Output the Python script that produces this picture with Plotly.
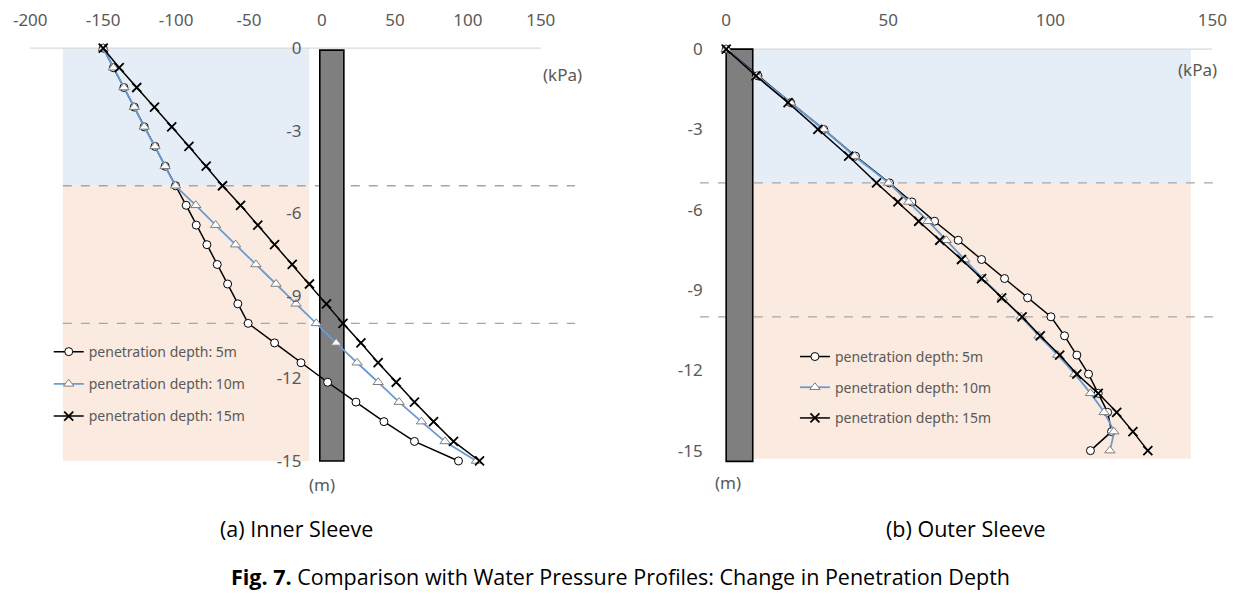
import plotly.graph_objects as go

# ---------------- data ----------------
depth_inner = [0, -0.71, -1.43, -2.14, -2.86, -3.57, -4.29, -5.0, -5.71, -6.43, -7.14,
               -7.86, -8.57, -9.29, -10.0, -10.71, -11.43, -12.14, -12.86, -13.57, -14.29, -15.0]
inner_5m = [-150, -143, -135.8, -128.7, -121.9, -114.5, -107.5, -100.4, -93.1, -86.2, -78.9,
            -71.8, -64.7, -57.7, -50.6, -32.5, -14.4, 3.9, 23.3, 42.5, 63.4, 93.6]
inner_10m = [-150, -143, -135.8, -128.7, -121.9, -114.5, -107.5, -100.4, -86.5, -72.9, -59.2,
             -45.3, -31.5, -17.8, -3.9, 9.7, 24.1, 38.5, 52.9, 68.2, 84.4, 105.9]
inner_15m = [-150, -139, -127, -114.8, -103, -91.2, -79.4, -68.2, -55.8, -44, -32.5,
             -20.4, -8.6, 3.1, 14.4, 26.7, 38.5, 50.9, 63.4, 76.5, 90.2, 108]

depth_outer = [0, -1, -2, -3, -4, -5, -5.71, -6.43, -7.14, -7.86, -8.57, -9.29, -10.0,
               -10.71, -11.43, -12.14, -12.86, -13.57, -14.29, -15.0]
outer_5m = [0, 9.8, 19.9, 30.1, 39.9, 50.4, 57.3, 64.3, 71.6, 78.8, 85.9, 93.0, 100.2,
            104.4, 108.2, 111.8, 114.8, 117.7, 118.9, 112.4]
outer_10m = [0, 9.5, 19.9, 30.1, 39.6, 50.1, 56.3, 62.3, 67.9, 73.6, 79.2, 85.2, 91.0,
             96.5, 102.3, 107.6, 112.4, 116.6, 119.6, 118.4]
outer_15m = [0, 9.2, 19.1, 28.3, 37.8, 46.4, 53.0, 59.4, 65.9, 72.6, 78.8, 85.0, 91.3,
             96.9, 102.9, 108.2, 114.8, 120.5, 125.5, 130.1]

series_names = ["penetration depth: 5m", "penetration depth: 10m", "penetration depth: 15m"]
x_ticks_inner = [-200, -150, -100, -50, 0, 50, 100, 150]
x_ticks_outer = [0, 50, 100, 150]
y_ticks = [0, -3, -6, -9, -12, -15]
unit_x = "(kPa)"
unit_y = "(m)"
caption_a = "(a) Inner Sleeve"
caption_b = "(b) Outer Sleeve"
fig_label = "Fig. 7."
fig_title = "Comparison with Water Pressure Profiles: Change in Penetration Depth"

# ---------------- layout geometry (layout pixels) ----------------
W, H = 1248, 595
FONT = "Noto Sans"
GRAY_TXT = "#595959"


def px_x(p):
    return p / W


def px_y(p):
    return 1 - p / H


L_x0px, L_scale = 316.0, 1.468        # px of 0 kPa, px per kPa
L_xrange = [-212, 180]
L_y0px, L_yscale = 29.7, 28.04        # px of depth 0, px per m
L_yrange = [-15.6, 0.5]

R_x0px, R_scale = 722.8, 3.262
R_xrange = [-10, 152]
R_y0px, R_yscale = 30.7, 27.27
R_yrange = [-15.6, 0.5]


def xdom(x0px, sc, rng):
    return [px_x(x0px + rng[0] * sc), px_x(x0px + rng[1] * sc)]


def ydom(y0px, sc, rng):
    return [px_y(y0px - rng[0] * sc), px_y(y0px - rng[1] * sc)]


fig = go.Figure()

BLUE = "#6a9bd1"


def add_set(xs, ys, xa, ya, legend):
    (x5, x10, x15) = xs
    fig.add_trace(go.Scatter(
        x=x5, y=ys, mode="lines+markers", name=series_names[0], xaxis=xa, yaxis=ya,
        legend=legend, legendgroup=legend + "a", cliponaxis=False,
        line=dict(color="#000000", width=1.5),
        marker=dict(symbol="circle", size=8, color="white", line=dict(color="#000000", width=1))))
    fig.add_trace(go.Scatter(
        x=x10, y=ys, mode="lines+markers", name=series_names[1], xaxis=xa, yaxis=ya,
        legend=legend, legendgroup=legend + "b", cliponaxis=False,
        line=dict(color=BLUE, width=1.8, shape="spline", smoothing=0.3),
        marker=dict(symbol="triangle-up", size=9, color="white", line=dict(color="#7f7f7f", width=1))))
    fig.add_trace(go.Scatter(
        x=x15, y=ys, mode="lines+markers", name=series_names[2], xaxis=xa, yaxis=ya,
        legend=legend, legendgroup=legend + "c", cliponaxis=False,
        line=dict(color="#000000", width=1.5),
        marker=dict(symbol="x-thin", size=9, color="#000000", line=dict(color="#000000", width=1.8))))


add_set((inner_5m, inner_10m, inner_15m), depth_inner, "x", "y", "legend")
add_set((outer_5m, outer_10m, outer_15m), depth_outer, "x2", "y2", "legend2")

shapes = []
BLUE_BG = "#e5edf7"
ORANGE_BG = "#fbeadf"
DASH = "#a6a6a6"


def panel_shapes(xr, yr, shade_x, shade_bottom, dash_x, axis_x, wall_x, wall_y):
    out = []
    out.append(dict(type="rect", xref=xr, yref=yr, x0=shade_x[0], x1=shade_x[1], y0=0, y1=-5,
                    fillcolor=BLUE_BG, line=dict(width=0), layer="below"))
    out.append(dict(type="rect", xref=xr, yref=yr, x0=shade_x[0], x1=shade_x[1], y0=-5,
                    y1=shade_bottom, fillcolor=ORANGE_BG, line=dict(width=0), layer="below"))
    for d in (-5, -10):
        out.append(dict(type="line", xref=xr, yref=yr, x0=dash_x[0], x1=dash_x[1], y0=d, y1=d,
                        line=dict(color=DASH, width=1.3, dash="dash"), layer="below"))
    out.append(dict(type="line", xref=xr, yref=yr, x0=axis_x[0], x1=axis_x[1], y0=0, y1=0,
                    line=dict(color="#d9d9d9", width=1.2), layer="below"))
    out.append(dict(type="rect", xref=xr, yref=yr, x0=wall_x[0], x1=wall_x[1], y0=wall_y[0],
                    y1=wall_y[1], fillcolor="#7f7f7f", line=dict(color="#000000", width=1.6),
                    layer="below"))
    return out


shapes += panel_shapes("x", "y", (-177.7, -8.7), -15, (-177.7, 173.5), (-200, 150),
                       (-1.5, 15), (-0.07, -15))
shapes += panel_shapes("x2", "y2", (8.2, 143.4), -15.3, (-8.1, 150.6), (0, 150),
                       (0, 8.2), (0, -15.4))

tickfont = dict(family=FONT, size=17, color=GRAY_TXT)
axis_common = dict(showgrid=False, zeroline=False, showline=False, fixedrange=True,
                   ticklabeloverflow="allow")
lab = lambda vals: [str(v) for v in vals]

leg_font = dict(family=FONT, size=14, color=GRAY_TXT)

fig.update_layout(
    width=W, height=H, margin=dict(l=0, r=0, t=0, b=0),
    paper_bgcolor="white", plot_bgcolor="rgba(0,0,0,0)",
    showlegend=True,
    shapes=shapes,
    xaxis=dict(domain=xdom(L_x0px, L_scale, L_xrange), range=L_xrange, side="top",
               anchor="free", position=px_y(11), tickvals=x_ticks_inner,
               ticktext=lab(x_ticks_inner), ticks="", tickfont=tickfont, **axis_common),
    yaxis=dict(domain=ydom(L_y0px, L_yscale, L_yrange), range=L_yrange, anchor="free",
               position=px_x(L_x0px), tickvals=y_ticks, ticktext=lab(y_ticks),
               ticks="outside", ticklen=17, tickcolor="rgba(0,0,0,0)", tickfont=tickfont,
               **axis_common),
    xaxis2=dict(domain=xdom(R_x0px, R_scale, R_xrange), range=R_xrange, side="top",
                anchor="free", position=px_y(11), tickvals=x_ticks_outer,
                ticktext=lab(x_ticks_outer), ticks="", tickfont=tickfont, **axis_common),
    yaxis2=dict(domain=ydom(R_y0px, R_yscale, R_yrange), range=R_yrange, anchor="free",
                position=px_x(R_x0px), tickvals=y_ticks, ticktext=lab(y_ticks),
                ticks="outside", ticklen=20, tickcolor="rgba(0,0,0,0)", tickfont=tickfont,
                **axis_common),
    legend=dict(x=px_x(41), y=px_y(323), xanchor="left", yanchor="top",
                bgcolor="rgba(0,0,0,0)", font=leg_font,
                tracegroupgap=11, traceorder="grouped", itemwidth=30),
    legend2=dict(x=px_x(792), y=px_y(328), xanchor="left", yanchor="top",
                 bgcolor="rgba(0,0,0,0)", font=leg_font,
                 tracegroupgap=9.5, traceorder="grouped", itemwidth=30),
)

ann = []
txt_font = dict(family=FONT, size=17, color=GRAY_TXT)


def add_text(text, x, y, font):
    ann.append(dict(text=text, xref="paper", yref="paper", x=px_x(x), y=px_y(y),
                    xanchor="center", yanchor="middle", showarrow=False, font=font))


add_text(unit_x, 558, 57, txt_font)
add_text(unit_x, 1197, 51, txt_font)
add_text(unit_y, 315.7, 474, txt_font)
add_text(unit_y, 724.9, 472, txt_font)
cap_font = dict(family="Open Sans", size=21.5, color="#000000")
add_text(caption_a, 290.5, 519, cap_font)
add_text(caption_b, 964.5, 519, cap_font)
add_text("<b>" + fig_label + "</b> " + fig_title, 616, 568, cap_font)
fig.update_layout(annotations=ann)

fig.write_html("out.html")
